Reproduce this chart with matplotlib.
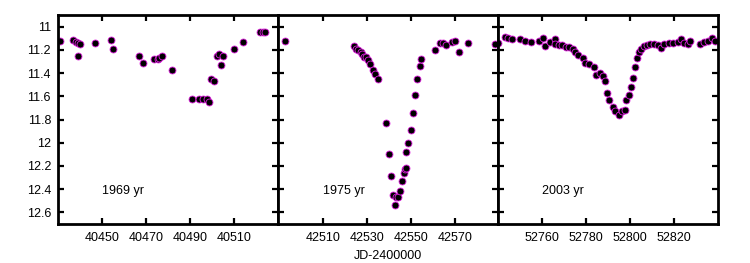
import matplotlib
matplotlib.use("Agg")
import matplotlib.pyplot as plt
from matplotlib.ticker import FuncFormatter

plt.rcParams['font.family'] = ['Liberation Sans', 'DejaVu Sans']

# 1969 season
jd_1969 = [40431.1, 40436.7, 40438.2, 40439.2, 40440.2, 40438.9, 40447.0, 40454.1,
           40455.2, 40467.0, 40468.8, 40473.8, 40475.3, 40476.0, 40477.1, 40481.8,
           40490.8, 40494.0, 40495.8, 40497.6, 40498.8, 40499.7, 40501.1, 40502.1,
           40503.3, 40505.2, 40504.0, 40510.0, 40513.9, 40521.8, 40523.0, 40524.2]
mag_1969 = [11.12, 11.115, 11.13, 11.14, 11.15, 11.25, 11.14, 11.115,
            11.195, 11.25, 11.315, 11.275, 11.275, 11.27, 11.25, 11.375,
            11.62, 11.62, 11.62, 11.62, 11.65, 11.45, 11.47, 11.25,
            11.24, 11.25, 11.33, 11.195, 11.13, 11.045, 11.045, 11.045]

# 1975 season
jd_1975 = [42492.9, 42523.9, 42524.8, 42525.9, 42527.0, 42527.9, 42528.6, 42529.7,
           42530.5, 42531.5, 42532.7, 42533.8, 42534.8, 42538.6, 42539.8, 42540.9,
           42541.8, 42543.0, 42542.6, 42544.2, 42544.8, 42545.9, 42546.7, 42547.1,
           42547.9, 42547.6, 42548.8, 42549.9, 42550.9, 42551.8, 42552.9, 42553.9,
           42554.7, 42560.9, 42563.3, 42564.5, 42565.8, 42568.8, 42570.0, 42571.8,
           42575.9, 42588.3]
mag_1975 = [11.12, 11.17, 11.19, 11.20, 11.22, 11.24, 11.26, 11.265,
            11.29, 11.32, 11.37, 11.41, 11.45, 11.83, 12.10, 12.29,
            12.45, 12.47, 12.54, 12.47, 12.42, 12.33, 12.26, 12.23,
            12.22, 12.08, 12.00, 11.89, 11.74, 11.59, 11.45, 11.34,
            11.28, 11.20, 11.145, 11.145, 11.16, 11.13, 11.125, 11.22,
            11.14, 11.15]

# 2003 season
jd_2003 = [52740.0, 52743.0, 52744.5, 52746.4, 52750.1, 52752.1, 52755.1, 52758.5,
           52760.5, 52761.5, 52763.8, 52766.0, 52765.7, 52767.5, 52769.1, 52770.9,
           52772.4, 52773.9, 52775.1, 52776.4, 52778.5, 52779.7, 52781.5, 52783.5,
           52784.5, 52786.5, 52787.5, 52788.5, 52789.5, 52790.3, 52792.1, 52793.3,
           52794.8, 52796.4, 52797.9, 52798.3, 52799.4, 52800.5, 52801.4, 52802.1,
           52803.2, 52804.0, 52805.0, 52806.2, 52807.7, 52809.2, 52811.0, 52812.5,
           52814.1, 52815.3, 52817.5, 52819.5, 52821.6, 52823.2, 52824.4, 52826.2,
           52827.1, 52831.6, 52833.5, 52835.3, 52837.3, 52838.8]
mag_2003 = [11.14, 11.09, 11.10, 11.11, 11.11, 11.12, 11.13, 11.12,
            11.10, 11.17, 11.13, 11.11, 11.15, 11.16, 11.16, 11.175,
            11.175, 11.19, 11.215, 11.245, 11.27, 11.31, 11.32, 11.35,
            11.415, 11.40, 11.425, 11.47, 11.57, 11.63, 11.69, 11.73,
            11.76, 11.73, 11.72, 11.63, 11.59, 11.52, 11.44, 11.35,
            11.27, 11.22, 11.19, 11.17, 11.16, 11.15, 11.15, 11.16,
            11.18, 11.15, 11.14, 11.14, 11.13, 11.11, 11.14, 11.15,
            11.12, 11.15, 11.13, 11.12, 11.10, 11.12]

seasons = [
    (jd_1969, mag_1969, (40430, 40530), [40450, 40470, 40490, 40510], "1969 yr", 40450),
    (jd_1975, mag_1975, (42489.5, 42589.5), [42510, 42530, 42550, 42570], "1975 yr", 42510),
    (jd_2003, mag_2003, (52740, 52840), [52760, 52780, 52800, 52820], "2003 yr", 52760),
]
yticks = [11, 11.2, 11.4, 11.6, 11.8, 12, 12.2, 12.4, 12.6]

fig = plt.figure(figsize=(7.5, 2.63), dpi=100)
W, H = 750.0, 263.0
lefts = [58, 278, 498]
for i, (jd, mag, xlim, xt, label, lx) in enumerate(seasons):
    ax = fig.add_axes([lefts[i] / W, 1 - 224 / H, 220 / W, 209 / H])
    ax.plot(jd, mag, 'o', ms=5, mfc='black', mec='#e020e0', mew=0.6, ls='none')
    ax.set_xlim(*xlim)
    ax.set_ylim(12.7, 10.9)
    ax.set_xticks(xt)
    ax.set_yticks(yticks)
    ax.yaxis.set_major_formatter(FuncFormatter(lambda v, p: '%g' % v))
    ax.tick_params(direction='in', length=4.5, width=1.6, top=True, right=True,
                   labelsize=9, pad=5)
    ax.tick_params(axis='x', pad=6)
    if i > 0:
        ax.tick_params(labelleft=False)
    for sp in ax.spines.values():
        sp.set_linewidth(2.0)
    ax.text(lx, 12.42, label, fontsize=9, ha='left', va='center')
    if i == 1:
        ax.set_xlabel('JD-2400000', fontsize=9, labelpad=4)

fig.savefig('out.png', dpi=100)
